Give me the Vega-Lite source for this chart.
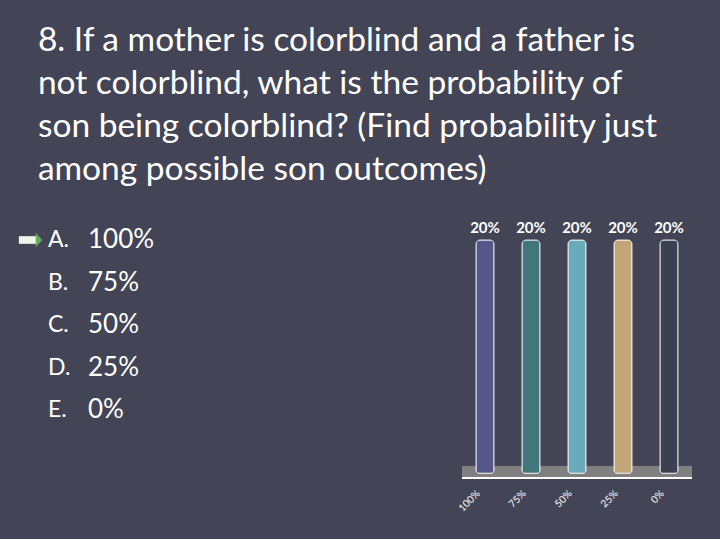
{
  "$schema": "https://vega.github.io/schema/vega-lite/v6.json",
  "description": "Clicker poll slide: probability of a colorblind son, responses split evenly.",
  "background": "#434556",
  "padding": {"left": 18, "top": 23, "right": 56, "bottom": 25},
  "autosize": "pad",
  "title": {
    "text": [
      "8. If a mother is colorblind and a father is",
      "not colorblind, what is the probability of",
      "son being colorblind?  (Find probability just",
      "among possible son outcomes)"
    ],
    "anchor": "start",
    "font": "Lato",
    "fontSize": 33.5,
    "fontWeight": "normal",
    "color": "#ffffff",
    "lineHeight": 43,
    "offset": 34,
    "dx": 19
  },
  "spacing": 301,
  "hconcat": [
    {
      "width": 40,
      "height": 170,
      "data": {
        "values": [
          {"letter": "A.", "option": "100%"},
          {"letter": "B.", "option": "75%"},
          {"letter": "C.", "option": "50%"},
          {"letter": "D.", "option": "25%"},
          {"letter": "E.", "option": "0%"}
        ]
      },
      "transform": [{"fold": ["letter", "option"], "as": ["part", "label"]}],
      "layer": [
        {
          "mark": {"type": "text", "align": "left", "baseline": "middle", "color": "#ffffff", "font": "Lato"},
          "encoding": {
            "x": {"field": "part", "type": "nominal", "scale": {"type": "point", "padding": 0}, "axis": null},
            "y": {"field": "letter", "type": "nominal", "scale": {"type": "point", "padding": 0}, "axis": null},
            "text": {"field": "label"},
            "size": {"field": "part", "type": "ordinal", "scale": {"range": [23, 26]}, "legend": null}
          }
        },
        {
          "transform": [{"filter": "datum.letter === 'A.' && datum.part === 'letter'"}],
          "mark": {"type": "point", "shape": "M-1,-0.33L0.5,-0.33L0.5,0.33L-1,0.33Z", "size": 540, "filled": true, "color": "#eef3ec", "opacity": 1, "xOffset": -17.5},
          "encoding": {
            "x": {"field": "part", "type": "nominal"},
            "y": {"field": "letter", "type": "nominal"}
          }
        },
        {
          "transform": [{"filter": "datum.letter === 'A.' && datum.part === 'letter'"}],
          "mark": {"type": "point", "shape": "M0.45,-0.65L1,0L0.45,0.65Z", "size": 540, "filled": true, "color": "#6aa865", "opacity": 1, "xOffset": -17.5},
          "encoding": {
            "x": {"field": "part", "type": "nominal"},
            "y": {"field": "letter", "type": "nominal"}
          }
        }
      ]
    },
    {
      "width": 230,
      "height": 238,
      "data": {
        "values": [
          {"answer": "100%", "share": 0.2},
          {"answer": "75%", "share": 0.2},
          {"answer": "50%", "share": 0.2},
          {"answer": "25%", "share": 0.2},
          {"answer": "0%", "share": 0.2}
        ]
      },
      "layer": [
        {
          "mark": {"type": "rect", "color": "#808080"},
          "encoding": {
            "y": {"datum": -0.004, "type": "quantitative", "scale": {"domain": [-0.004, 0.2], "nice": false, "zero": false}, "axis": null},
            "y2": {"datum": 0.006}
          }
        },
        {
          "mark": {"type": "rule", "color": "#ffffff", "strokeWidth": 1.5},
          "encoding": {"y": {"datum": -0.004, "type": "quantitative"}}
        },
        {
          "mark": {"type": "bar", "width": 18, "stroke": "#ffffff", "strokeWidth": 0.8, "cornerRadiusTopLeft": 4, "cornerRadiusTopRight": 4, "cornerRadiusBottomLeft": 3, "cornerRadiusBottomRight": 3},
          "encoding": {
            "x": {
              "field": "answer",
              "type": "nominal",
              "sort": null,
              "scale": {"paddingInner": 0, "paddingOuter": 0},
              "axis": {"title": null, "domain": false, "ticks": false, "labelAngle": -45, "labelColor": "#ffffff", "labelFont": "Lato", "labelFontSize": 10, "labelPadding": 10, "labelOffset": -10}
            },
            "y": {"field": "share", "type": "quantitative"},
            "color": {
              "field": "answer",
              "type": "nominal",
              "scale": {"domain": ["100%", "75%", "50%", "25%", "0%"], "range": ["#55578a", "#3f777a", "#69abb9", "#c1a678", "#3d3f52"]},
              "legend": null
            }
          }
        },
        {
          "mark": {"type": "text", "baseline": "bottom", "dy": -4, "color": "#ffffff", "font": "Lato", "fontSize": 15, "fontWeight": "bold"},
          "encoding": {
            "x": {"field": "answer", "type": "nominal", "sort": null},
            "y": {"field": "share", "type": "quantitative"},
            "text": {"field": "share", "type": "quantitative", "format": ".0%"}
          }
        }
      ]
    }
  ],
  "config": {"view": {"stroke": null}}
}
